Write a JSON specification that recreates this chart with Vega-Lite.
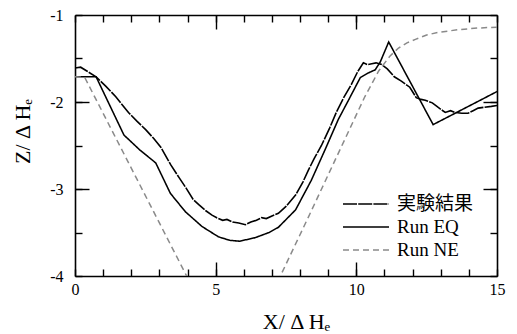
{
  "$schema": "https://vega.github.io/schema/vega-lite/v6.json",
  "width": 422,
  "height": 261,
  "autosize": {"type": "none"},
  "padding": {"left": 75, "top": 15, "right": 20, "bottom": 58},
  "background": "white",
  "config": {
    "view": {"stroke": null},
    "axis": {
      "domainColor": "black", "domainWidth": 1.6, "tickColor": "black", "tickWidth": 1.4, "ticks": true, "zindex": 1,
      "labelFont": "Liberation Serif", "labelFontSize": 16, "labelColor": "black",
      "titleFont": "Liberation Serif", "titleFontSize": 22, "titleFontWeight": "normal", "titleColor": "black",
      "grid": false, "labelFlush": false, "labelOverlap": false
    }
  },
  "data": {"values": [
    {"series": "実験結果", "x": 0, "y": -1.61}, {"series": "実験結果", "x": 0.2, "y": -1.6}, {"series": "実験結果", "x": 0.45, "y": -1.65},
    {"series": "実験結果", "x": 0.75, "y": -1.71}, {"series": "実験結果", "x": 1.1, "y": -1.82}, {"series": "実験結果", "x": 1.45, "y": -1.94},
    {"series": "実験結果", "x": 1.9, "y": -2.12}, {"series": "実験結果", "x": 2.2, "y": -2.22}, {"series": "実験結果", "x": 2.52, "y": -2.32},
    {"series": "実験結果", "x": 2.8, "y": -2.42}, {"series": "実験結果", "x": 3.05, "y": -2.52}, {"series": "実験結果", "x": 3.4, "y": -2.72},
    {"series": "実験結果", "x": 3.7, "y": -2.87}, {"series": "実験結果", "x": 3.95, "y": -2.99}, {"series": "実験結果", "x": 4.2, "y": -3.12},
    {"series": "実験結果", "x": 4.4, "y": -3.18}, {"series": "実験結果", "x": 4.65, "y": -3.25}, {"series": "実験結果", "x": 4.87, "y": -3.3},
    {"series": "実験結果", "x": 5.04, "y": -3.33}, {"series": "実験結果", "x": 5.25, "y": -3.36}, {"series": "実験結果", "x": 5.4, "y": -3.35},
    {"series": "実験結果", "x": 5.6, "y": -3.38}, {"series": "実験結果", "x": 5.82, "y": -3.39}, {"series": "実験結果", "x": 6.06, "y": -3.41},
    {"series": "実験結果", "x": 6.25, "y": -3.38}, {"series": "実験結果", "x": 6.45, "y": -3.36}, {"series": "実験結果", "x": 6.63, "y": -3.33},
    {"series": "実験結果", "x": 6.8, "y": -3.34}, {"series": "実験結果", "x": 7.0, "y": -3.31}, {"series": "実験結果", "x": 7.23, "y": -3.28},
    {"series": "実験結果", "x": 7.5, "y": -3.2}, {"series": "実験結果", "x": 7.84, "y": -3.07}, {"series": "実験結果", "x": 8.1, "y": -2.92},
    {"series": "実験結果", "x": 8.3, "y": -2.78}, {"series": "実験結果", "x": 8.5, "y": -2.65}, {"series": "実験結果", "x": 8.76, "y": -2.5},
    {"series": "実験結果", "x": 9.05, "y": -2.3}, {"series": "実験結果", "x": 9.3, "y": -2.11}, {"series": "実験結果", "x": 9.55, "y": -1.95},
    {"series": "実験結果", "x": 9.82, "y": -1.8}, {"series": "実験結果", "x": 10.05, "y": -1.65}, {"series": "実験結果", "x": 10.25, "y": -1.55},
    {"series": "実験結果", "x": 10.4, "y": -1.57}, {"series": "実験結果", "x": 10.55, "y": -1.56}, {"series": "実験結果", "x": 10.7, "y": -1.55},
    {"series": "実験結果", "x": 10.9, "y": -1.57}, {"series": "実験結果", "x": 11.1, "y": -1.62}, {"series": "実験結果", "x": 11.35, "y": -1.71},
    {"series": "実験結果", "x": 11.6, "y": -1.76}, {"series": "実験結果", "x": 11.9, "y": -1.83}, {"series": "実験結果", "x": 12.13, "y": -1.95},
    {"series": "実験結果", "x": 12.3, "y": -1.97}, {"series": "実験結果", "x": 12.45, "y": -1.98}, {"series": "実験結果", "x": 12.7, "y": -2.01},
    {"series": "実験結果", "x": 12.9, "y": -2.06}, {"series": "実験結果", "x": 13.16, "y": -2.12}, {"series": "実験結果", "x": 13.35, "y": -2.1},
    {"series": "実験結果", "x": 13.5, "y": -2.12}, {"series": "実験結果", "x": 13.75, "y": -2.13}, {"series": "実験結果", "x": 13.97, "y": -2.13},
    {"series": "実験結果", "x": 14.15, "y": -2.1}, {"series": "実験結果", "x": 14.33, "y": -2.07}, {"series": "実験結果", "x": 14.55, "y": -2.06},
    {"series": "実験結果", "x": 14.8, "y": -2.05}, {"series": "実験結果", "x": 15, "y": -2.04},
    {"series": "Run EQ", "x": 0, "y": -1.71}, {"series": "Run EQ", "x": 0.75, "y": -1.71}, {"series": "Run EQ", "x": 1.74, "y": -2.38},
    {"series": "Run EQ", "x": 2.3, "y": -2.55}, {"series": "Run EQ", "x": 2.87, "y": -2.7}, {"series": "Run EQ", "x": 3.39, "y": -3.05},
    {"series": "Run EQ", "x": 3.92, "y": -3.26}, {"series": "Run EQ", "x": 4.51, "y": -3.43}, {"series": "Run EQ", "x": 5.1, "y": -3.55},
    {"series": "Run EQ", "x": 5.5, "y": -3.59}, {"series": "Run EQ", "x": 5.85, "y": -3.6}, {"series": "Run EQ", "x": 6.4, "y": -3.56},
    {"series": "Run EQ", "x": 6.9, "y": -3.5}, {"series": "Run EQ", "x": 7.23, "y": -3.44}, {"series": "Run EQ", "x": 7.84, "y": -3.24},
    {"series": "Run EQ", "x": 8.4, "y": -2.9}, {"series": "Run EQ", "x": 8.9, "y": -2.54}, {"series": "Run EQ", "x": 9.36, "y": -2.2},
    {"series": "Run EQ", "x": 9.72, "y": -1.98}, {"series": "Run EQ", "x": 10.14, "y": -1.72}, {"series": "Run EQ", "x": 10.4, "y": -1.67},
    {"series": "Run EQ", "x": 10.67, "y": -1.63}, {"series": "Run EQ", "x": 10.85, "y": -1.54}, {"series": "Run EQ", "x": 11.15, "y": -1.31},
    {"series": "Run EQ", "x": 12.73, "y": -2.26}, {"series": "Run EQ", "x": 15, "y": -1.88},
    {"series": "Run NE", "x": 0, "y": -1.71}, {"series": "Run NE", "x": 0.35, "y": -1.72}, {"series": "Run NE", "x": 1.0, "y": -2.13},
    {"series": "Run NE", "x": 2.0, "y": -2.76}, {"series": "Run NE", "x": 3.0, "y": -3.39}, {"series": "Run NE", "x": 4.0, "y": -4.02},
    {"series": "Run NE", "x": 5.7, "y": -5.1}, {"series": "Run NE", "x": 7.3, "y": -4.0}, {"series": "Run NE", "x": 8.3, "y": -3.32},
    {"series": "Run NE", "x": 9.3, "y": -2.63}, {"series": "Run NE", "x": 10.3, "y": -1.94}, {"series": "Run NE", "x": 10.8, "y": -1.64},
    {"series": "Run NE", "x": 11.2, "y": -1.47}, {"series": "Run NE", "x": 11.5, "y": -1.38}, {"series": "Run NE", "x": 11.8, "y": -1.32},
    {"series": "Run NE", "x": 12.1, "y": -1.28}, {"series": "Run NE", "x": 12.5, "y": -1.23}, {"series": "Run NE", "x": 12.9, "y": -1.2},
    {"series": "Run NE", "x": 13.6, "y": -1.17}, {"series": "Run NE", "x": 14.3, "y": -1.15}, {"series": "Run NE", "x": 15, "y": -1.14}
  ]},
  "layer": [
    {
      "mark": {"type": "line", "clip": true},
      "encoding": {
        "x": {"field": "x", "type": "quantitative",
          "scale": {"domain": [0, 15], "nice": false, "zero": false},
          "axis": {"orient": "bottom", "values": [0,1,2,3,4,5,6,7,8,9,10,11,12,13,14,15], "tickSize": -7,
            "labelExpr": "datum.value % 5 === 0 ? '' + datum.value : ''", "labelPadding": 12,
            "title": "X/ Δ Hₑ", "titleX": 221, "titleY": 52, "titleBaseline": "alphabetic", "titleAlign": "center", "titleAnchor": null}},
        "y": {"field": "y", "type": "quantitative",
          "scale": {"domain": [-4, -1], "nice": false, "zero": false},
          "axis": {"orient": "left", "values": [-4,-3.5,-3,-2.5,-2,-1.5,-1], "tickSize": -7,
            "labelExpr": "datum.value % 1 === 0 ? '' + datum.value : ''", "labelPadding": 19,
            "title": "Z/ Δ Hₑ", "titleAngle": -90, "titleX": -46, "titleY": 116, "titleBaseline": "alphabetic", "titleAlign": "center", "titleAnchor": null}},
        "color": {"field": "series", "type": "nominal",
          "scale": {"domain": ["実験結果", "Run EQ", "Run NE"], "range": ["black", "black", "#8a8a8a"]},
          "legend": {"orient": "none", "legendX": 280, "legendY": 178, "title": null, "symbolType": "M-2.3,0H2.3",
            "symbolSize": 400, "symbolStrokeWidth": 1.5, "labelFont": "Liberation Serif, Noto Sans CJK JP", "labelFontSize": 19,
            "labelColor": "black", "labelOffset": 20, "rowPadding": 2, "padding": 0}},
        "strokeDash": {"field": "series", "type": "nominal",
          "scale": {"domain": ["実験結果", "Run EQ", "Run NE"], "range": [[14, 1.2], [1, 0], [6, 4]]}},
        "strokeWidth": {"field": "series", "type": "nominal",
          "scale": {"domain": ["実験結果", "Run EQ", "Run NE"], "range": [1.6, 1.5, 1]}}
      }
    },
    {
      "mark": {"type": "line", "opacity": 0},
      "encoding": {
        "x": {"field": "x", "type": "quantitative", "scale": {"domain": [0, 15], "nice": false, "zero": false},
          "axis": {"orient": "top", "values": [0,1,2,3,4,5,6,7,8,9,10,11,12,13,14,15], "tickSize": -7, "labels": false, "title": null}},
        "y": {"field": "y", "type": "quantitative", "scale": {"domain": [-4, -1], "nice": false, "zero": false},
          "axis": {"orient": "right", "values": [-4,-3.5,-3,-2.5,-2,-1.5,-1], "tickSize": -7, "labels": false, "title": null}}
      }
    },
    {
      "mark": {"type": "line", "opacity": 0},
      "encoding": {
        "x": {"field": "x", "type": "quantitative", "scale": {"domain": [0, 15], "nice": false, "zero": false},
          "axis": {"orient": "bottom", "values": [5, 10], "tickSize": -14, "labels": false, "domain": false, "title": null}},
        "y": {"field": "y", "type": "quantitative", "scale": {"domain": [-4, -1], "nice": false, "zero": false},
          "axis": {"orient": "left", "values": [-3, -2], "tickSize": -14, "labels": false, "domain": false, "title": null}}
      }
    },
    {
      "mark": {"type": "line", "opacity": 0},
      "encoding": {
        "x": {"field": "x", "type": "quantitative", "scale": {"domain": [0, 15], "nice": false, "zero": false},
          "axis": {"orient": "top", "values": [5, 10], "tickSize": -14, "labels": false, "domain": false, "title": null}},
        "y": {"field": "y", "type": "quantitative", "scale": {"domain": [-4, -1], "nice": false, "zero": false},
          "axis": {"orient": "right", "values": [-3, -2], "tickSize": -14, "labels": false, "domain": false, "title": null}}
      }
    }
  ],
  "resolve": {"axis": {"x": "independent", "y": "independent"}}
}
